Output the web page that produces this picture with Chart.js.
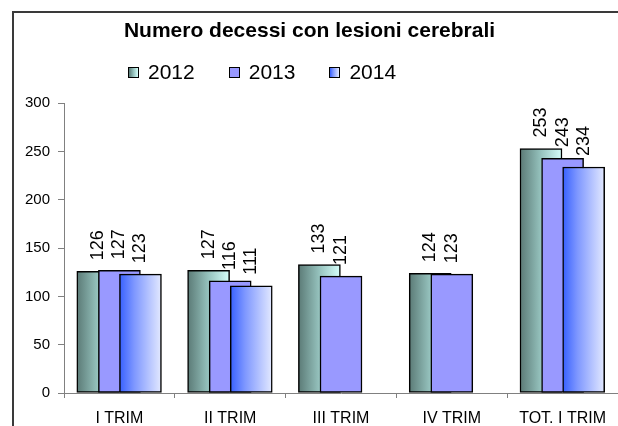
<!DOCTYPE html>
<html>
<head>
<meta charset="utf-8">
<title>Numero decessi con lesioni cerebrali</title>
<script src="https://cdn.jsdelivr.net/npm/chart.js@4.4.1/dist/chart.umd.min.js"></script>
<style>
  html, body { margin: 0; padding: 0; background: #fff; overflow: hidden; }
  #frame { position: absolute; left: 12px; top: 11px; width: 640px; height: 440px;
           border-left: 2px solid #3a3a3a; border-top: 2px solid #3a3a3a; }
  #chart { position: absolute; left: 0; top: 0; }
  #legend { position: absolute; left: 128px; top: 60px; display: flex;
            font: 21px "Liberation Sans", Arial, sans-serif; color: #000; }
  .item { display: flex; align-items: center; margin-right: 34px; line-height: 24px; }
  .box { width: 9px; height: 9px; border: 1px solid #000; margin-right: 9px; }
</style>
</head>
<body>
<div id="frame"></div>
<canvas id="chart" width="618" height="426"></canvas>
<div id="legend"></div>
<script>
var categories = ['I TRIM', 'II TRIM', 'III TRIM', 'IV TRIM', 'TOT. I TRIM'];
var years = ['2012', '2013', '2014'];
var values2012 = [126, 127, 133, 124, 253];
var values2013 = [127, 116, 121, 123, 243];
var values2014 = [123, 111, null, null, 234];
var yTicks = [0, 50, 100, 150, 200, 250, 300];

var font = '"Liberation Sans", Arial, sans-serif';

// overlapping bars: each year sits a bit left/right of the category centre
var barShift = [-0.195, 0, 0.19];
var barWidth = 42;

function series(values, shift) {
    return values.map(function (v, i) {
        return { x: i + shift, y: v };
    });
}

function gradientFill(stops, fallback) {
    return function (c) {
        if (c.type !== 'data' || !c.parsed) return fallback;
        var x = c.chart.scales.x.getPixelForValue(c.parsed.x);
        if (!isFinite(x)) return fallback;
        var g = c.chart.ctx.createLinearGradient(x - barWidth / 2, 0, x + barWidth / 2, 0);
        stops.forEach(function (s) { g.addColorStop(s[0], s[1]); });
        return g;
    };
}

var fill2012 = [[0, '#5b7a76'], [0.5, '#96c3be'], [1, '#d6fffb']];
var fill2014 = [[0, '#3760ff'], [0.35, '#7e97ff'], [1, '#e3e9ff']];

// numbers written vertically above each bar
var valueLabels = {
    id: 'valueLabels',
    afterDatasetsDraw: function (chart) {
        var ctx = chart.ctx;
        ctx.save();
        ctx.font = '18px ' + font;
        ctx.fillStyle = '#000';
        ctx.textAlign = 'left';
        ctx.textBaseline = 'middle';
        chart.data.datasets.forEach(function (ds, i) {
            chart.getDatasetMeta(i).data.forEach(function (bar, j) {
                var v = ds.data[j].y;
                if (v === null) return;
                ctx.save();
                ctx.translate(bar.x, bar.y - 11);
                ctx.rotate(-Math.PI / 2);
                ctx.fillText(String(v), 0, 0);
                ctx.restore();
            });
        });
        ctx.restore();
    }
};

var chart = new Chart(document.getElementById('chart'), {
    type: 'bar',
    data: {
        datasets: [{
            label: years[0],
            data: series(values2012, barShift[0]),
            backgroundColor: gradientFill(fill2012, '#8fb9b5'),
            order: 2
        }, {
            label: years[1],
            data: series(values2013, barShift[1]),
            backgroundColor: '#9999ff',
            order: 1
        }, {
            label: years[2],
            data: series(values2014, barShift[2]),
            backgroundColor: gradientFill(fill2014, '#8aa0ff'),
            order: 0
        }]
    },
    options: {
        responsive: false,
        animation: false,
        layout: { padding: { left: 0, right: -1, top: 0, bottom: 0 } },
        datasets: {
            bar: {
                grouped: false,
                barThickness: barWidth,
                borderColor: '#000',
                borderWidth: 1.5,
                borderSkipped: false
            }
        },
        plugins: {
            legend: { display: false },
            tooltip: { enabled: false },
            title: {
                display: true,
                text: 'Numero decessi con lesioni cerebrali',
                color: '#000',
                font: { family: font, size: 21, weight: 'bold' },
                padding: { top: 19, bottom: 59 }
            }
        },
        scales: {
            x: {
                type: 'linear',
                min: -0.5,
                max: categories.length - 0.5,
                offset: false,
                afterBuildTicks: function (s) {
                    var t = [];
                    for (var i = 0; i <= categories.length * 2; i++) t.push({ value: i / 2 - 0.5 });
                    s.ticks = t;
                },
                afterFit: function (s) {
                    s.height = 33;
                    s.paddingLeft = 0;
                    s.paddingRight = 0;
                },
                grid: {
                    offset: false,
                    drawOnChartArea: false,
                    tickLength: 5,
                    tickColor: function (c) {
                        return (c.tick && Number.isInteger(c.tick.value)) ? 'rgba(0,0,0,0)' : '#808080';
                    }
                },
                border: { color: '#808080', width: 1 },
                ticks: {
                    autoSkip: false,
                    maxRotation: 0,
                    padding: 11,
                    color: '#000',
                    font: { family: font, size: 16 },
                    callback: function (v) {
                        return Number.isInteger(v) ? categories[v] : '';
                    }
                }
            },
            y: {
                min: yTicks[0],
                max: yTicks[yTicks.length - 1],
                afterBuildTicks: function (s) {
                    s.ticks = yTicks.map(function (v) { return { value: v }; });
                },
                afterFit: function (s) { s.width = 64; },
                grid: { drawOnChartArea: false, tickLength: 6, color: '#808080' },
                border: { color: '#808080', width: 1 },
                ticks: {
                    padding: 8,
                    color: '#000',
                    font: { family: font, size: 15 }
                }
            }
        }
    },
    plugins: [valueLabels]
});

// legend row with the same fills as the bars
var legendFills = [
    'linear-gradient(to right, #5b7a76, #96c3be, #d6fffb)',
    '#9999ff',
    'linear-gradient(to right, #3760ff, #7e97ff 35%, #e3e9ff)'
];
var legend = document.getElementById('legend');
years.forEach(function (y, i) {
    var item = document.createElement('div');
    item.className = 'item';
    var box = document.createElement('span');
    box.className = 'box';
    box.style.background = legendFills[i];
    var txt = document.createElement('span');
    txt.textContent = y;
    item.appendChild(box);
    item.appendChild(txt);
    legend.appendChild(item);
});
</script>
</body>
</html>
